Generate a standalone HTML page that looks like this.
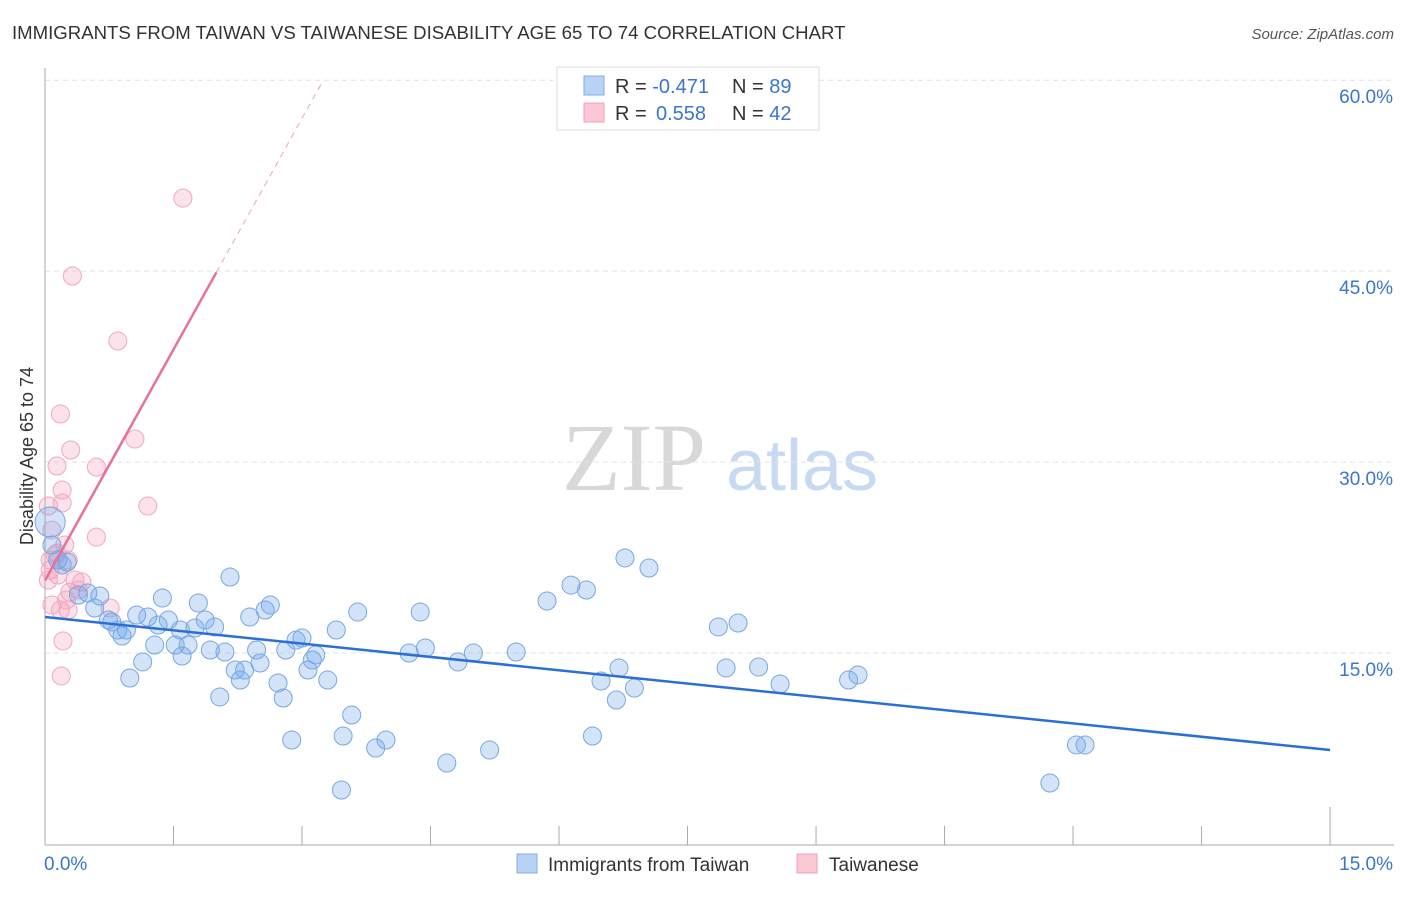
<!DOCTYPE html>
<html><head><meta charset="utf-8"><style>
body{margin:0;background:#fff;font-family:"Liberation Sans",sans-serif}
</style></head><body>
<svg id="chart" width="1406" height="892" xmlns="http://www.w3.org/2000/svg" font-family="Liberation Sans, sans-serif">
<text x="12" y="39" font-size="18.6" fill="#333">IMMIGRANTS FROM TAIWAN VS TAIWANESE DISABILITY AGE 65 TO 74 CORRELATION CHART</text>
<text x="1394" y="39" font-size="15" fill="#555" text-anchor="end" font-style="italic">Source: ZipAtlas.com</text>
<g>
<text x="634" y="490" font-size="96" fill="#d8d8d8" text-anchor="middle" font-family="Liberation Serif, serif">ZIP</text>
<text x="802" y="490" font-size="72" fill="#c8daf2" text-anchor="middle">atlas</text>
</g>
<g id="grid"></g><g id="axes"></g><g id="pts"></g><g id="trend"></g>
<text transform="translate(33,456) rotate(-90)" font-size="18" fill="#333" text-anchor="middle">Disability Age 65 to 74</text>
<g>
<rect x="557" y="67" width="262" height="63" fill="#fff" stroke="#ddd"/>
<rect x="584" y="76" width="20" height="19" fill="#b8d3f5" stroke="#86acde"/>
<rect x="584" y="103" width="20" height="19" fill="#fcc8d6" stroke="#eea0b8"/>
<text x="615" y="93" font-size="20" fill="#333">R = <tspan fill="#3a75d0">-0.471</tspan><tspan x="732">N = </tspan><tspan fill="#3a75d0">89</tspan></text>
<text x="615" y="120" font-size="20" fill="#333">R = <tspan fill="#3a75d0" x="656">0.558</tspan><tspan x="732">N = </tspan><tspan fill="#3a75d0">42</tspan></text>
</g>
<g>
<rect x="517" y="854" width="20" height="19" fill="#b8d3f5" stroke="#86acde"/>
<text x="548" y="871" font-size="19" fill="#333">Immigrants from Taiwan</text>
<rect x="797" y="854" width="20" height="19" fill="#fcc8d6" stroke="#eea0b8"/>
<text x="829" y="871" font-size="19" fill="#333">Taiwanese</text>
</g>
</svg>
<script>
const yTicks=[15,30,45,60];
const yTickLabels=["15.0%","30.0%","45.0%","60.0%"];
const xTicks=[0,1.5,3,4.5,6,7.5,9,10.5,12,13.5,15];
const blueX=[.06,.08,.15,.26,.20,.39,.50,.58,.64,.74,.78,.85,.90,.95,.99,1.07,1.14,1.20,1.28,1.32,1.37,1.44,1.52,1.58,1.60,1.67,1.79,1.75,1.87,1.93,1.98,2.04,2.10,2.16,2.22,2.28,2.33,2.39,2.47,2.51,2.57,2.63,2.72,2.78,2.81,2.88,2.93,3.00,3.07,3.12,3.16,3.30,3.40,3.48,3.46,3.58,3.65,3.86,3.98,4.25,4.38,4.44,4.69,4.82,5.00,5.19,5.50,5.86,6.14,6.32,6.39,6.49,6.67,6.70,6.77,6.88,7.05,7.86,7.95,8.09,8.33,8.58,9.38,9.49,11.73,12.04,12.14];
const blueY=[25.29,23.49,22.31,22.15,21.92,19.56,19.72,18.54,19.48,17.60,17.44,16.81,16.34,16.81,13.04,17.99,14.30,17.83,15.63,17.20,19.32,17.60,15.63,16.81,14.77,15.63,18.93,16.97,17.60,15.24,17.05,11.55,15.08,20.97,13.67,12.88,13.67,17.83,15.24,14.22,18.38,18.77,12.65,11.47,15.24,8.17,16.02,16.18,13.67,14.45,14.85,12.88,16.81,8.48,4.24,10.13,18.22,7.54,8.17,15.00,18.22,15.40,6.36,14.30,15.00,7.38,15.08,19.09,20.34,19.95,8.48,12.80,11.31,13.83,22.47,12.25,21.68,17.05,13.83,17.36,13.90,12.57,12.88,13.28,4.79,7.78,7.78];
const pinkX=[1.61,.32,.85,.18,.30,.14,.60,1.05,1.20,.20,.20,.04,.08,.12,.60,.23,.14,.27,.06,.15,.35,.43,.29,.39,.08,.18,.27,.76,.21,.19,.04,.06,.25];
const pinkY=[50.74,44.62,39.51,33.78,30.95,29.69,29.61,31.81,26.55,27.81,26.79,26.55,24.66,22.70,24.11,23.49,22.86,22.31,21.52,21.13,20.74,20.58,19.79,19.95,18.77,18.38,18.38,18.54,15.95,13.20,20.74,22.31,19.17];
const blueTrend=[17.83,7.38];
const pinkTrend=[20.7,12.1];
const pinkSolidEnd=2.0, pinkDashEnd=3.23;
const X=v=>45+v*85.67, Y=v=>844-v*12.73;
const NS="http://www.w3.org/2000/svg";
function mk(p,tag,a){const e=document.createElementNS(NS,tag);for(const k in a)e.setAttribute(k,a[k]);p.appendChild(e);return e;}
const grid=document.getElementById('grid'),axes=document.getElementById('axes'),pts=document.getElementById('pts'),tr=document.getElementById('trend');
yTicks.forEach((t,i)=>{
 const l=mk(grid,'line',{x1:45,x2:1394,y1:Y(t),y2:Y(t),stroke:'#e2e2e2','stroke-dasharray':'5,4'});
 
 
 const tx=mk(grid,'text',{x:1393,y:Y(t)+23,'font-size':19,fill:'#3a75d0','text-anchor':'end'});
 tx.textContent=yTickLabels[i];
 
 
});
const ya=mk(axes,'line',{x1:45,x2:45,y1:68,y2:845,stroke:'#aaa'});


const xa=mk(axes,'line',{x1:45,x2:1394,y1:845,y2:845,stroke:'#aaa'});


xTicks.forEach((t,i)=>{
 const tk=mk(axes,'line',{x1:X(t),x2:X(t),y1:i==xTicks.length-1?807:826,y2:845,stroke:'#aaa'});
 
 
});
[[0,'start',"0.0%"],[15,'end',"15.0%"]].forEach(a=>{
 const x=a[0]==0?X(0)-1:1393;
 const tx=mk(axes,'text',{x:x,y:870,'font-size':19,fill:'#3a75d0','text-anchor':a[1]});
 tx.textContent=a[2];
 
 
});
pinkX.forEach((v,i)=>{
 const c=mk(pts,'circle',{cx:X(v),cy:Y(pinkY[i]),r:9,fill:'rgba(245,160,185,0.3)',stroke:'#f0a8bf','stroke-width':1});
 
 
});
blueX.forEach((v,i)=>{
 const c=mk(pts,'circle',{cx:X(v),cy:Y(blueY[i]),r:i==0?15:9,fill:'rgba(110,165,235,0.3)',stroke:'#79a6e2','stroke-width':1});
 
 
});
const bl=mk(tr,'line',{x1:X(0),y1:Y(blueTrend[0]),x2:X(15),y2:Y(blueTrend[1]),stroke:'#2a6fd6','stroke-width':2.5});


const pl=mk(tr,'line',{x1:X(0),y1:Y(pinkTrend[0]),x2:X(pinkSolidEnd),y2:Y(pinkTrend[0]+pinkTrend[1]*pinkSolidEnd),stroke:'#e8709a','stroke-width':2.5});


const pd=mk(tr,'line',{x1:X(pinkSolidEnd),y1:Y(pinkTrend[0]+pinkTrend[1]*pinkSolidEnd),x2:X(pinkDashEnd),y2:Y(pinkTrend[0]+pinkTrend[1]*pinkDashEnd),stroke:'#eeb0c5','stroke-width':1.2,'stroke-dasharray':'6,5'});


</script>
</body></html>
